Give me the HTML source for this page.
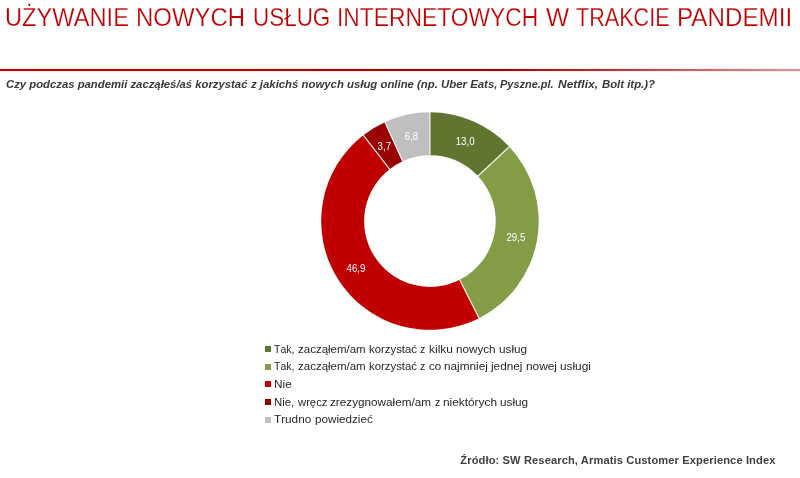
<!DOCTYPE html>
<html lang="pl">
<head>
<meta charset="utf-8">
<title>Używanie nowych usług internetowych w trakcie pandemii</title>
<style>
html,body{margin:0;padding:0;background:#fff;}
body{width:800px;height:478px;position:relative;overflow:hidden;font-family:"Liberation Sans",sans-serif;}
.abs{position:absolute;white-space:nowrap;line-height:1;}
#title{position:absolute;left:0;top:5.2px;width:800px;height:26px;font-size:25.4px;color:#C00000;line-height:1;-webkit-text-stroke:0.25px #fff;}
#title span,#sub span{position:absolute;top:0;white-space:nowrap;transform-origin:0 0;}
#rule{position:absolute;left:0;top:69px;width:800px;height:2px;background:linear-gradient(to right,#B80A0A 0px,#AA0606 300px,#9C0404 500px,#A83434 600px,#BC6E6E 706px,#D09C9C 800px);box-shadow:0 0 1.5px rgba(235,70,70,0.6);}
#sub{position:absolute;left:0;top:79.2px;width:800px;height:12px;font-size:11.0px;font-weight:bold;font-style:italic;color:#383838;line-height:1;}
#legend div{position:absolute;left:0;width:800px;height:12px;line-height:1;font-size:11.5px;color:#262626;font-kerning:none;}
#legend span{position:absolute;top:0;white-space:nowrap;transform-origin:0 0;}
#legend i{position:absolute;left:265.2px;width:6px;height:6px;}
#src{right:24.5px;top:454.8px;font-size:11.1px;letter-spacing:0.125px;font-weight:bold;color:#404040;transform-origin:100% 0;}
svg text{font-family:"Liberation Sans",sans-serif;font-size:10.3px;fill:#fff;text-anchor:middle;}
</style>
</head>
<body>
<h1 id="title" style="margin:0;font-weight:normal">
<span style="left:5.17px;transform:scaleX(0.9314)">UŻYWANIE</span>
<span style="left:136.13px;transform:scaleX(0.9435)">NOWYCH</span>
<span style="left:252.67px;transform:scaleX(0.8837)">USŁUG</span>
<span style="left:336.99px;transform:scaleX(0.8988)">INTERNETOWYCH</span>
<span style="left:545.69px;transform:scaleX(0.9678)">W</span>
<span style="left:576.11px;transform:scaleX(0.8507)">TRAKCIE</span>
<span style="left:677.11px;transform:scaleX(0.9534)">PANDEMII</span>
</h1>
<div id="rule"></div>
<div id="sub">
<span style="left:6.35px;transform:scaleX(1.0284)">Czy podczas pandemii zacząłeś/aś korzystać</span>
<span style="left:251.06px;transform:scaleX(1.0332)">z jakichś nowych usług online (np.</span>
<span style="left:440.84px;transform:scaleX(1.0373)">Uber Eats,</span>
<span style="left:500.41px;transform:scaleX(0.9969)">Pyszne.pl.</span>
<span style="left:557.89px;transform:scaleX(1.0917)">Netflix,</span>
<span style="left:602.30px;transform:scaleX(1.0315)">Bolt itp.)?</span>
</div>
<svg width="800" height="478" viewBox="0 0 800 478" style="position:absolute;left:0;top:0">
<path d="M429.95 112.35A108.75 108.75 0 0 1 509.29 146.72L477.95 176.10A65.8 65.8 0 0 0 429.95 155.30Z" fill="#5F7530"/>
<path d="M509.29 146.72A108.75 108.75 0 0 1 479.06 318.13L459.67 279.81A65.8 65.8 0 0 0 477.95 176.10Z" fill="#849C45"/>
<path d="M479.06 318.13A108.75 108.75 0 0 1 363.24 135.21L389.59 169.13A65.8 65.8 0 0 0 459.67 279.81Z" fill="#C00000"/>
<path d="M363.24 135.21A108.75 108.75 0 0 1 384.84 122.15L402.66 161.23A65.8 65.8 0 0 0 389.59 169.13Z" fill="#990000"/>
<path d="M384.84 122.15A108.75 108.75 0 0 1 429.95 112.35L429.95 155.30A65.8 65.8 0 0 0 402.66 161.23Z" fill="#BFBFBF"/>
<g stroke="#fff" stroke-width="1.2" stroke-opacity="0.88">
<line x1="429.95" y1="112.05" x2="429.95" y2="155.60"/>
<line x1="509.51" y1="146.52" x2="477.73" y2="176.30"/>
<line x1="479.20" y1="318.40" x2="459.53" y2="279.54"/>
<line x1="363.06" y1="134.98" x2="389.77" y2="169.37"/>
<line x1="384.72" y1="121.87" x2="402.78" y2="161.50"/>
</g>
<text transform="translate(465.1,144.9) scale(0.943,1)">13,0</text>
<text transform="translate(515.9,240.5) scale(0.943,1)">29,5</text>
<text transform="translate(356.0,272.2) scale(0.943,1)">46,9</text>
<text transform="translate(384.3,149.7) scale(0.943,1)">3,7</text>
<text transform="translate(411.5,139.9) scale(0.943,1)">6,8</text>
</svg>
<div id="legend">
<i style="top:346px;background:#5F7530"></i><div style="top:343.5px"><span style="left:274.40px;transform:scaleX(0.9145)">Tak,</span> <span style="left:298.06px;transform:scaleX(0.9993)">zacząłem/am</span> <span style="left:368.96px;transform:scaleX(0.9884)">korzystać</span> <span style="left:420.17px;transform:scaleX(0.9218)">z</span> <span style="left:428.68px;transform:scaleX(1.0401)">kilku</span> <span style="left:455.81px;transform:scaleX(1.0161)">nowych</span> <span style="left:498.64px;transform:scaleX(1.0205)">usług</span></div>
<i style="top:363.8px;background:#849C45"></i><div style="top:361.1px"><span style="left:274.40px;transform:scaleX(0.9145)">Tak,</span> <span style="left:298.06px;transform:scaleX(0.9993)">zacząłem/am</span> <span style="left:368.96px;transform:scaleX(0.9884)">korzystać</span> <span style="left:420.17px;transform:scaleX(0.9218)">z</span> <span style="left:428.68px;transform:scaleX(1.0103)">co</span> <span style="left:444.15px;transform:scaleX(1.0249)">najmniej</span> <span style="left:491.26px;transform:scaleX(1.0240)">jednej</span> <span style="left:525.90px;transform:scaleX(1.0289)">nowej</span> <span style="left:560.02px;transform:scaleX(1.0282)">usługi</span></div>
<i style="top:381.4px;background:#C00000"></i><div style="top:378.8px"><span style="left:274.40px;transform:scaleX(1.0272)">Nie</span></div>
<i style="top:399px;background:#990000"></i><div style="top:397.4px"><span style="left:274.40px;transform:scaleX(0.9909)">Nie,</span> <span style="left:297.87px;transform:scaleX(0.9785)">wręcz</span> <span style="left:330.46px;transform:scaleX(1.0196)">zrezygnowałem/am</span> <span style="left:434.67px;transform:scaleX(0.9218)">z</span> <span style="left:443.18px;transform:scaleX(1.0297)">niektórych</span> <span style="left:500.36px;transform:scaleX(1.0205)">usług</span></div>
<i style="top:416.9px;background:#BFBFBF"></i><div style="top:413.8px"><span style="left:274.40px;transform:scaleX(1.0205)">Trudno</span> <span style="left:314.79px;transform:scaleX(1.0149)">powiedzieć</span></div>
</div>
<div id="src" class="abs">Źródło: SW Research, Armatis Customer Experience Index</div>
</body>
</html>
